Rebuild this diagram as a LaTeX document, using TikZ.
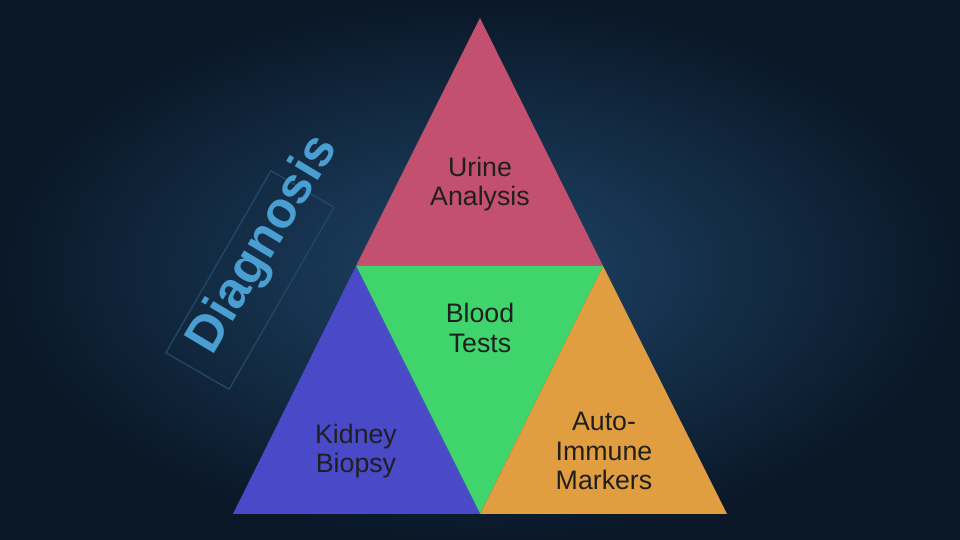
\documentclass[tikz,border=0pt]{standalone}
\usepackage{fontspec}
\setmainfont{Liberation Sans}
\begin{document}
\begin{tikzpicture}[x=0.01cm,y=-0.01cm,
  label/.style={align=center,text=black!88,font=\fontsize{7.6}{8.4}\selectfont},
  piece/.style={draw=none}]

\definecolor{bgin}{HTML}{1E4468}
\definecolor{bgout}{HTML}{0A1828}
\definecolor{urinecol}{HTML}{C4506F}
\definecolor{bloodcol}{HTML}{3FD56C}
\definecolor{kidneycol}{HTML}{4A4AC9}
\definecolor{autocol}{HTML}{E09E40}
\definecolor{titlecol}{HTML}{4A9FD2}

\useasboundingbox (0,0) rectangle (960,540);
\fill[inner color=bgin,outer color=bgout] (0,0) rectangle (960,540);

\coordinate (top) at (480,18);
\coordinate (bl) at (233,514);
\coordinate (br) at (727,514);
\coordinate (ml) at (356,266);
\coordinate (mr) at (603,266);
\coordinate (mb) at (480,514);

\fill[urinecol] (top) -- (mr) -- (ml) -- cycle;
\fill[bloodcol] (ml) -- (mr) -- (mb) -- cycle;
\fill[kidneycol] (ml) -- (mb) -- (bl) -- cycle;
\fill[autocol] (mr) -- (br) -- (mb) -- cycle;

\node[label] (urinetxt) at (480,184) {Urine\\Analysis};
\node[label] (bloodtxt) at (480,328) {Blood\\Tests};
\node[label] (kidneytxt) at (356,451) {Kidney\\Biopsy};
\node[label] (autotxt) at (604,451) {Auto-\\Immune\\Markers};

\node[rotate=60,draw=titlecol!35!bgout,thin,minimum width=2.1cm,minimum height=0.73cm] (diagbox) at (250,280) {};
\node[rotate=59,text=titlecol,font=\fontsize{14.5}{17}\selectfont\bfseries] (diagtxt) at (264,245) {Diagnosis};

\end{tikzpicture}
\end{document}
